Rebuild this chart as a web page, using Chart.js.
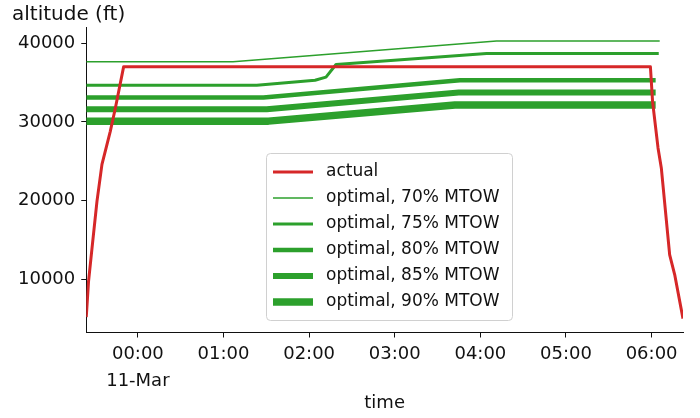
<!DOCTYPE html>
<html>
<head>
<meta charset="utf-8">
<script src="https://cdn.jsdelivr.net/npm/chart.js@4/dist/chart.umd.min.js"></script>
<style>
  html, body { margin: 0; padding: 0; background: #fff; }
  #wrap { width: 700px; height: 418px; }
</style>
</head>
<body>
<div id="wrap"><canvas id="altChart"></canvas></div>
<script>
// times are clock times; anything from 12:00 on belongs to 10-Mar (before midnight)
const actualTime = ['23:23:50', '23:25:25', '23:27:50', '23:31:20', '23:34:50', '23:40:40', '23:44:10', '23:50:00',
                    '05:59:10', '06:00:40', '06:04:30', '06:06:50', '06:12:40', '06:16:10', '06:22:00'];
const actualAlt = [5200, 9700, 13900, 19900, 24600, 28800, 31700, 37000,
                   37000, 32600, 26700, 24100, 13100, 10600, 5000];

const opt70Time = ['23:23:50', '01:06:40', '04:11:20', '06:05:40'];
const opt70Alt = [37650, 37650, 40270, 40270];

const opt75Time = ['23:23:50', '01:23:20', '02:04:10', '02:11:50', '02:18:50', '04:04:20', '06:05:00'];
const opt75Alt = [34650, 34650, 35300, 35700, 37300, 38700, 38700];

const opt80Time = ['23:23:50', '01:28:00', '03:45:40', '06:02:50'];
const opt80Alt = [33100, 33100, 35300, 35300];

const opt85Time = ['23:23:50', '01:30:20', '03:44:50', '06:02:50'];
const opt85Alt = [31600, 31600, 33750, 33750];

const opt90Time = ['23:23:50', '01:31:30', '03:42:10', '06:02:50'];
const opt90Alt = [30100, 30100, 32150, 32150];

const xTicks = [0, 1, 2, 3, 4, 5, 6];   // hours after 00:00 11-Mar
const yTicks = [10000, 20000, 30000, 40000];

const FONT = 'DejaVu Sans';

function toHours(s) {
    const [h, m, sec] = s.split(':').map(Number);
    let v = h + m / 60 + (sec || 0) / 3600;
    if (h >= 12) v -= 24;
    return v;
}

function points(times, alts) {
    return times.map((t, i) => ({ x: toHours(t), y: alts[i] }));
}

const red = '#d62728';
const green = '#2ca02c';

function greenSet(label, times, alts, width) {
    return {
        label: label,
        data: points(times, alts),
        borderColor: green,
        backgroundColor: green,
        borderWidth: width,
        pointRadius: 0,
        borderJoinStyle: 'round',
        fill: false,
        tension: 0
    };
}

// legend box drawn inside the plot like matplotlib does
const boxLegend = {
    id: 'boxLegend',
    afterDraw(chart) {
        const c = chart.ctx;
        const x0 = 266, y0 = 153, w = 246, h = 167;
        c.save();
        c.fillStyle = 'rgba(255,255,255,0.8)';
        c.strokeStyle = '#d0d0d0';
        c.lineWidth = 1;
        c.beginPath();
        c.roundRect(x0 + 0.5, y0 + 0.5, w, h, 4);
        c.fill();
        c.stroke();
        c.font = '17px ' + FONT;
        c.textBaseline = 'middle';
        c.textAlign = 'left';
        chart.data.datasets.forEach((ds, i) => {
            const y = y0 + 19 + i * 26;
            c.strokeStyle = ds.borderColor;
            c.lineWidth = ds.borderWidth;
            c.beginPath();
            c.moveTo(x0 + 7, y);
            c.lineTo(x0 + 47, y);
            c.stroke();
            c.fillStyle = '#111';
            c.fillText(ds.label, x0 + 60, y);
        });
        c.restore();
    }
};

// y label sits above the axis, horizontal
const topLabel = {
    id: 'topLabel',
    afterDraw(chart) {
        const c = chart.ctx;
        c.save();
        c.font = '20px ' + FONT;
        c.fillStyle = '#111';
        c.textBaseline = 'middle';
        c.textAlign = 'left';
        c.fillText('altitude (ft)', 12, 15);
        c.restore();
    }
};

new Chart(document.getElementById('altChart'), {
    type: 'line',
    data: {
        datasets: [
            {
                label: 'actual',
                data: points(actualTime, actualAlt),
                borderColor: red,
                backgroundColor: red,
                borderWidth: 3,
                pointRadius: 0,
                borderJoinStyle: 'round',
                fill: false,
                tension: 0
            },
            greenSet('optimal, 70% MTOW', opt70Time, opt70Alt, 1.5),
            greenSet('optimal, 75% MTOW', opt75Time, opt75Alt, 3),
            greenSet('optimal, 80% MTOW', opt80Time, opt80Alt, 4.5),
            greenSet('optimal, 85% MTOW', opt85Time, opt85Alt, 6),
            greenSet('optimal, 90% MTOW', opt90Time, opt90Alt, 7.5)
        ]
    },
    options: {
        responsive: true,
        maintainAspectRatio: false,
        animation: false,
        layout: { padding: { top: 27, right: 17, left: 12, bottom: 6 } },
        plugins: {
            legend: { display: false },
            tooltip: { enabled: false }
        },
        scales: {
            x: {
                type: 'linear',
                min: toHours('23:23:50'),
                max: toHours('06:22:00'),
                afterBuildTicks: (scale) => { scale.ticks = xTicks.map(v => ({ value: v })); },
                grid: { drawOnChartArea: false, drawTicks: true, tickLength: 5, color: '#111' },
                border: { display: true, color: '#111', width: 1 },
                ticks: {
                    color: '#111',
                    padding: 3.5,
                    maxRotation: 0,
                    font: { family: FONT, size: 18, lineHeight: 1.5 },
                    callback: (v) => {
                        const lab = String(v).padStart(2, '0') + ':00';
                        return v === 0 ? [lab, '11-Mar'] : lab;
                    }
                },
                title: {
                    display: true,
                    text: 'time',
                    color: '#111',
                    font: { family: FONT, size: 18, lineHeight: 1.0 },
                    padding: { top: -4.5, bottom: 0 }
                }
            },
            y: {
                min: 3235,
                max: 42065,
                afterBuildTicks: (scale) => { scale.ticks = yTicks.map(v => ({ value: v })); },
                grid: { drawOnChartArea: false, drawTicks: true, tickLength: 5, color: '#111' },
                border: { display: true, color: '#111', width: 1 },
                ticks: {
                    color: '#111',
                    padding: 6,
                    font: { family: FONT, size: 18 },
                    callback: (v) => String(v)
                }
            }
        }
    },
    plugins: [boxLegend, topLabel]
});
</script>
</body>
</html>
